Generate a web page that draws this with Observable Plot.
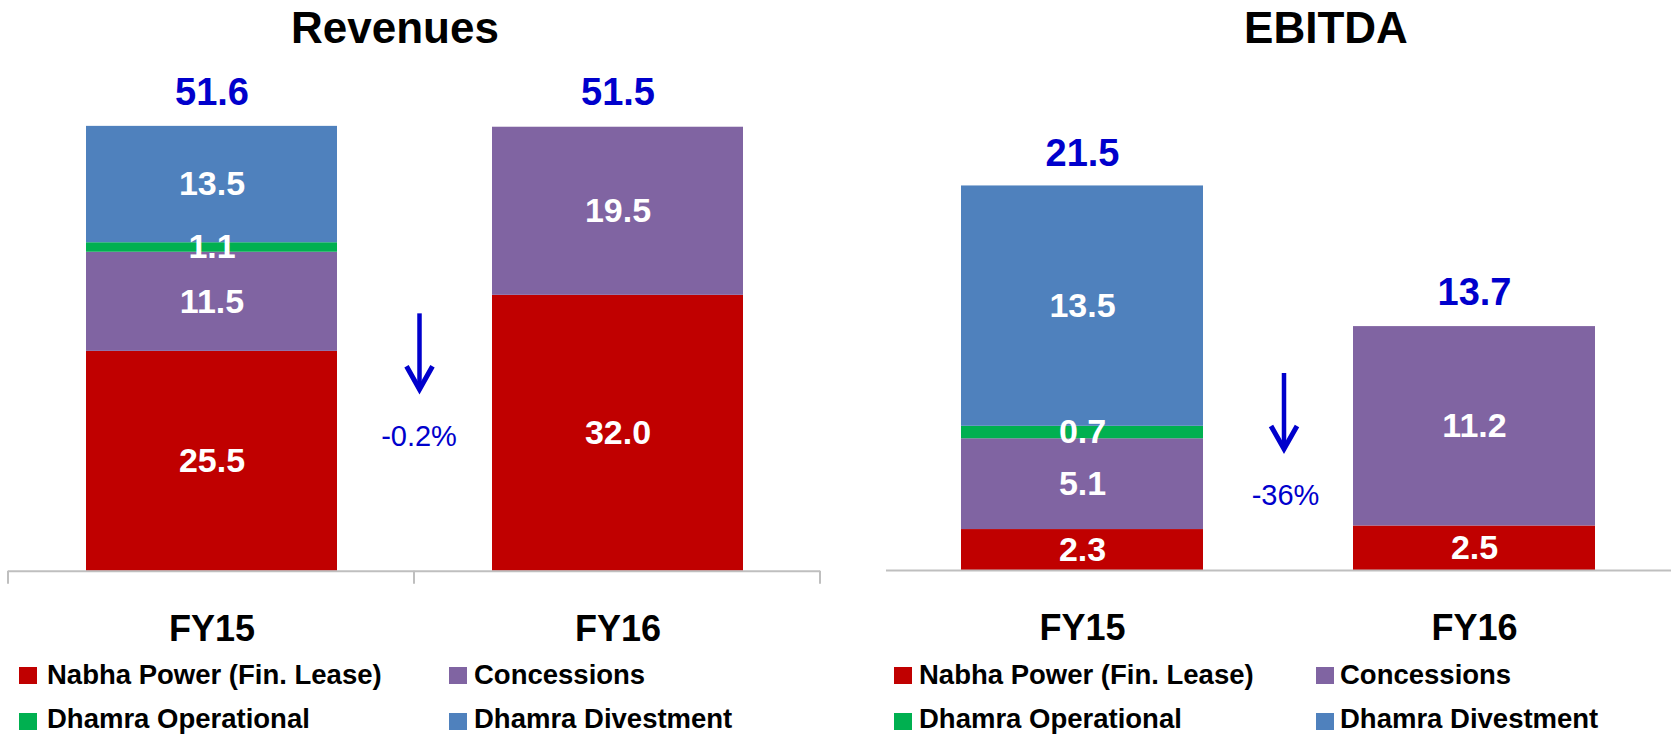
<!DOCTYPE html>
<html>
<head>
<meta charset="utf-8">
<script src="https://cdn.jsdelivr.net/npm/d3@7"></script>
<script src="https://cdn.jsdelivr.net/npm/@observablehq/plot@0.6"></script>
<style>
  html, body { margin: 0; padding: 0; background: #fff; }
  #root { position: relative; width: 1671px; height: 735px; overflow: hidden;
          font-family: "Liberation Sans", Arial, sans-serif; color: #000; }
  .title { position: absolute; top: 6px; font-weight: bold; font-size: 44px; line-height: 44px;
           transform: translateX(-50%); white-space: nowrap; }
  .panel { position: absolute; top: 60px; }
  .sw { position: absolute; width: 18px; height: 17px; }
  .lt { position: absolute; font-weight: bold; font-size: 27.5px; line-height: 28px; white-space: nowrap; }
</style>
</head>
<body>
<div id="root"></div>
<script>
// ---------- data ----------
const categories = ["FY15", "FY16"];
const seriesNames = ["Nabha Power (Fin. Lease)", "Concessions", "Dhamra Operational", "Dhamra Divestment"];
const seriesColors = ["#C00000", "#8064A2", "#00B050", "#4F81BD"];

const revNabha = [25.5, 32.0];
const revConcessions = [11.5, 19.5];
const revDhamraOp = [1.1, 0];
const revDhamraDiv = [13.5, 0];
const revTotals = [51.6, 51.5];
const revChange = "-0.2%";

const ebitdaNabha = [2.3, 2.5];
const ebitdaConcessions = [5.1, 11.2];
const ebitdaDhamraOp = [0.7, 0];
const ebitdaDhamraDiv = [13.5, 0];
const ebitdaTotals = [21.5, 13.7];
const ebitdaChange = "-36%";

const panelTitles = ["Revenues", "EBITDA"];

// ---------- helpers ----------
const FONT = '"Liberation Sans", Arial, sans-serif';
const BLUE = "#0000CC";
const fmt = d3.format(".1f");

function buildRows(seriesArrays) {
  const rows = [];
  seriesArrays.forEach((vals, s) => {
    vals.forEach((v, i) => { if (v > 0) rows.push({cat: categories[i], series: seriesNames[s], value: v}); });
  });
  return rows;
}

function arrowMark(dx, yTop, yTip) {
  return (index, scales, values, dims) => {
    const fx = dims.marginLeft + (dims.width - dims.marginLeft - dims.marginRight) / 2 + dx;
    const fy = dims.marginTop + (dims.height - dims.marginTop - dims.marginBottom) / 2;
    const g = d3.create("svg:g").attr("fill", "none").attr("stroke", BLUE);
    g.append("line").attr("x1", fx).attr("x2", fx)
      .attr("y1", fy + yTop).attr("y2", fy + yTip - 6).attr("stroke-width", 4.5);
    g.append("path")
      .attr("d", `M${fx - 13},${fy + yTip - 27}L${fx},${fy + yTip - 4}L${fx + 13},${fy + yTip - 27}`)
      .attr("stroke-width", 5).attr("stroke-linejoin", "miter");
    return g.node();
  };
}

function boundaryTicks(index, scales, values, dims) {
  const y0 = dims.height - dims.marginBottom;
  const l = dims.marginLeft, r = dims.width - dims.marginRight;
  const g = d3.create("svg:g").attr("stroke", "#BFBFBF").attr("stroke-width", 2);
  for (const x of [l, (l + r) / 2, r]) g.append("line").attr("x1", x).attr("x2", x).attr("y1", y0).attr("y2", y0 + 13);
  return g.node();
}

function panel(o) {
  const rows = buildRows(o.series);
  const totals = categories.map((c, i) => ({cat: c, total: o.totals[i]}));
  const marks = [
    Plot.barY(rows, {x: "cat", y: "value", fill: "series"}),
    Plot.ruleY([0], {stroke: "#BFBFBF", strokeWidth: 2}),
    Plot.text(rows, Plot.stackY({x: "cat", y: "value", z: "series", text: d => fmt(d.value),
      fill: "white", fontSize: 34, fontWeight: "bold", fontFamily: FONT})),
    Plot.text(totals, {x: "cat", y: "total", text: d => fmt(d.total), dy: -34,
      fill: BLUE, fontSize: 38, fontWeight: "bold", fontFamily: FONT}),
    Plot.text([o.change], {frameAnchor: "middle", dx: o.labelDx, dy: o.labelDy, text: d => d,
      fill: BLUE, fontSize: 29, fontWeight: "normal", fontFamily: FONT}),
    arrowMark(o.arrowDx, o.arrowTop, o.arrowTip)
  ];
  if (o.ticks) marks.push(boundaryTicks);
  return Plot.plot({
    width: o.width, height: 590,
    marginTop: 40, marginBottom: o.marginBottom, marginLeft: o.marginLeft, marginRight: o.marginRight,
    x: {domain: categories, paddingInner: 0.382, paddingOuter: 0.191, tickSize: 0, tickPadding: 44, label: null},
    y: {domain: [0, o.yMax], axis: null},
    color: {domain: seriesNames, range: seriesColors},
    style: {fontFamily: FONT, fontSize: "36px", fontWeight: "bold", color: "#000", background: "transparent", overflow: "visible"},
    marks
  });
}

// ---------- layout ----------
const root = document.getElementById("root");

function addTitle(text, cx) {
  const d = document.createElement("div");
  d.className = "title"; d.textContent = text; d.style.left = cx + "px";
  root.appendChild(d);
}
function addPanel(svg, left) {
  const d = document.createElement("div");
  d.className = "panel"; d.style.left = left + "px";
  d.appendChild(svg); root.appendChild(d);
}
function addLegend(cols) {
  // 2 columns x 2 rows: row1 = series 0,1 ; row2 = series 2,3
  const rowsTop = [667, 713], textTop = [660.5, 704.5];
  seriesNames.forEach((name, s) => {
    const r = Math.floor(s / 2), c = s % 2;
    const sw = document.createElement("div");
    sw.className = "sw"; sw.style.left = cols[c][0] + "px"; sw.style.top = rowsTop[r] + "px";
    sw.style.background = seriesColors[s];
    const t = document.createElement("div");
    t.className = "lt"; t.style.left = cols[c][1] + "px"; t.style.top = textTop[r] + "px";
    t.textContent = name;
    root.appendChild(sw); root.appendChild(t);
  });
}

addTitle(panelTitles[0], 395);
addTitle(panelTitles[1], 1326);

addPanel(panel({
  series: [revNabha, revConcessions, revDhamraOp, revDhamraDiv], totals: revTotals, change: revChange,
  width: 835, marginLeft: 8, marginRight: 15, marginBottom: 79.3, yMax: 54.6,
  labelDx: 4.5, labelDy: 101, arrowDx: 5.5, arrowTop: -22, arrowTip: 58, ticks: true
}), 0);

addPanel(panel({
  series: [ebitdaNabha, ebitdaConcessions, ebitdaDhamraOp, ebitdaDhamraDiv], totals: ebitdaTotals, change: ebitdaChange,
  width: 836, marginLeft: 51, marginRight: 0, marginBottom: 80, yMax: 26.4,
  labelDx: 6.5, labelDy: 160, arrowDx: 5.5, arrowTop: 38, arrowTip: 118, ticks: false
}), 835);

addLegend([[19, 47], [449, 474]]);
addLegend([[894, 919], [1316, 1340]]);
</script>
</body>
</html>
